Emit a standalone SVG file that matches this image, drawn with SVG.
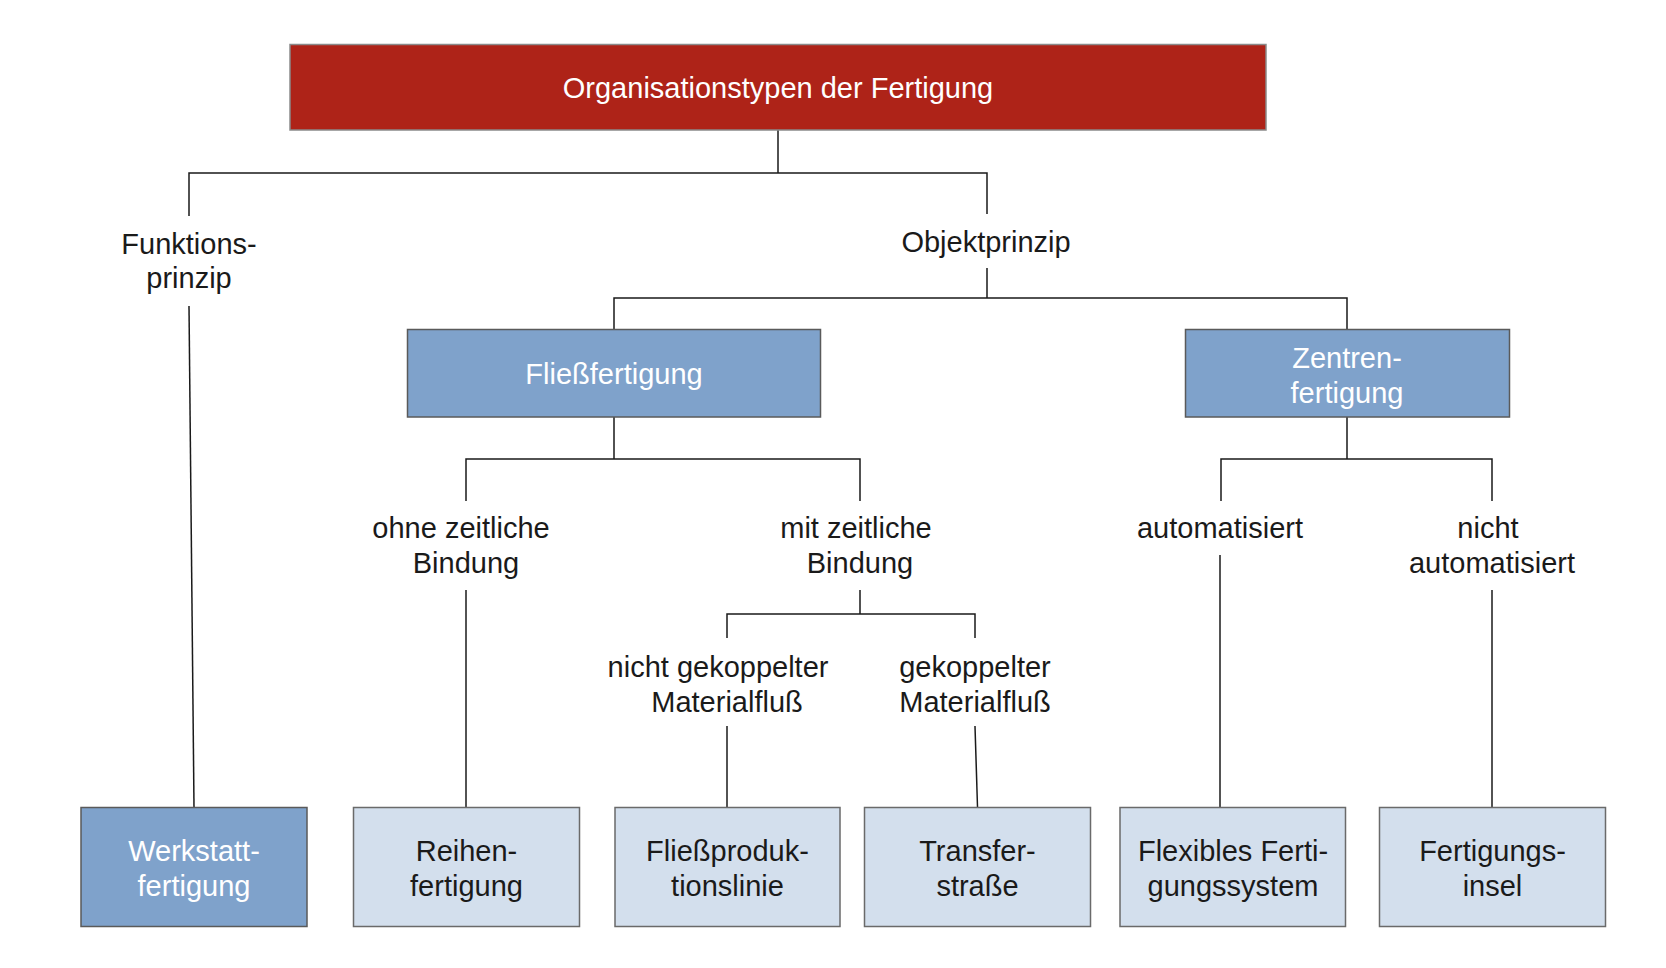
<svg xmlns="http://www.w3.org/2000/svg" width="1666" height="968" viewBox="0 0 1666 968">
<style>
text{font-family:"Liberation Sans",Arial,Helvetica,sans-serif;font-size:29px;text-anchor:middle;fill:#1a1a1a}
.w{fill:#ffffff}
.red{fill:#AE2318;stroke:#8a8a8a;stroke-width:1.5}
.mid{fill:#7FA2CB;stroke:#5a5a5a;stroke-width:1.5}
.light{fill:#D3DFED;stroke:#6a6a6a;stroke-width:1.5}
.c{fill:none;stroke:#1a1a1a;stroke-width:1.5}
</style>
<rect width="1666" height="968" fill="#ffffff"/>
<g id="connectors">
<path class="c" d="M778,130 V173 H189 V216 M778,173 H987 V214"/>
<path class="c" d="M189,306 L194,807"/>
<path class="c" d="M987,268 V298 H614 V329 M987,298 H1347 V329"/>
<path class="c" d="M614,417 V459 H466 V501 M614,459 H860 V501"/>
<path class="c" d="M1347,417 V459 H1221 V501 M1347,459 H1492 V501"/>
<path class="c" d="M466,590 V807"/>
<path class="c" d="M860,590 V614 H727 V638 M860,614 H975 V638"/>
<path class="c" d="M727,726 V807"/>
<path class="c" d="M975,726 L977.5,807"/>
<path class="c" d="M1220,555 V807"/>
<path class="c" d="M1492,590 V807"/>
</g>
<g id="root">
<rect class="red" x="290" y="44.5" width="976" height="85.5"/>
<text class="w" x="778" y="98">Organisationstypen der Fertigung</text>
</g>
<g id="funktionsprinzip">
<text x="189" y="254">Funktions-</text>
<text x="189" y="288">prinzip</text>
</g>
<g id="objektprinzip">
<text x="986" y="252">Objektprinzip</text>
</g>
<g id="fliessfertigung">
<rect class="mid" x="407.5" y="329.5" width="413" height="87.5"/>
<text class="w" x="614" y="384">Fließfertigung</text>
</g>
<g id="zentrenfertigung">
<rect class="mid" x="1185.5" y="329.5" width="324" height="87.5"/>
<text class="w" x="1347" y="367.5">Zentren-</text>
<text class="w" x="1347" y="402.5">fertigung</text>
</g>
<g id="ohne-zeitliche-bindung">
<text x="461" y="538">ohne zeitliche</text>
<text x="466" y="573">Bindung</text>
</g>
<g id="mit-zeitliche-bindung">
<text x="856" y="538">mit zeitliche</text>
<text x="860" y="573">Bindung</text>
</g>
<g id="automatisiert">
<text x="1220" y="538">automatisiert</text>
</g>
<g id="nicht-automatisiert">
<text x="1488" y="538">nicht</text>
<text x="1492" y="573">automatisiert</text>
</g>
<g id="nicht-gekoppelter">
<text x="718" y="677">nicht gekoppelter</text>
<text x="727" y="712">Materialfluß</text>
</g>
<g id="gekoppelter">
<text x="975" y="677">gekoppelter</text>
<text x="975" y="712">Materialfluß</text>
</g>
<g id="werkstattfertigung">
<rect class="mid" x="81" y="807.5" width="226" height="119"/>
<text class="w" x="194" y="861">Werkstatt-</text>
<text class="w" x="194" y="896">fertigung</text>
</g>
<g id="reihenfertigung">
<rect class="light" x="353.5" y="807.5" width="226" height="119"/>
<text x="466.5" y="861">Reihen-</text>
<text x="466.5" y="896">fertigung</text>
</g>
<g id="fliessproduktionslinie">
<rect class="light" x="615" y="807.5" width="225" height="119"/>
<text x="727.5" y="861">Fließproduk-</text>
<text x="727.5" y="896">tionslinie</text>
</g>
<g id="transferstrasse">
<rect class="light" x="864.5" y="807.5" width="226" height="119"/>
<text x="977.5" y="861">Transfer-</text>
<text x="977.5" y="896">straße</text>
</g>
<g id="flexibles-fertigungssystem">
<rect class="light" x="1120" y="807.5" width="225.5" height="119"/>
<text x="1233" y="861">Flexibles Ferti-</text>
<text x="1233" y="896">gungssystem</text>
</g>
<g id="fertigungsinsel">
<rect class="light" x="1379.5" y="807.5" width="226" height="119"/>
<text x="1492.5" y="861">Fertigungs-</text>
<text x="1492.5" y="896">insel</text>
</g>
</svg>
